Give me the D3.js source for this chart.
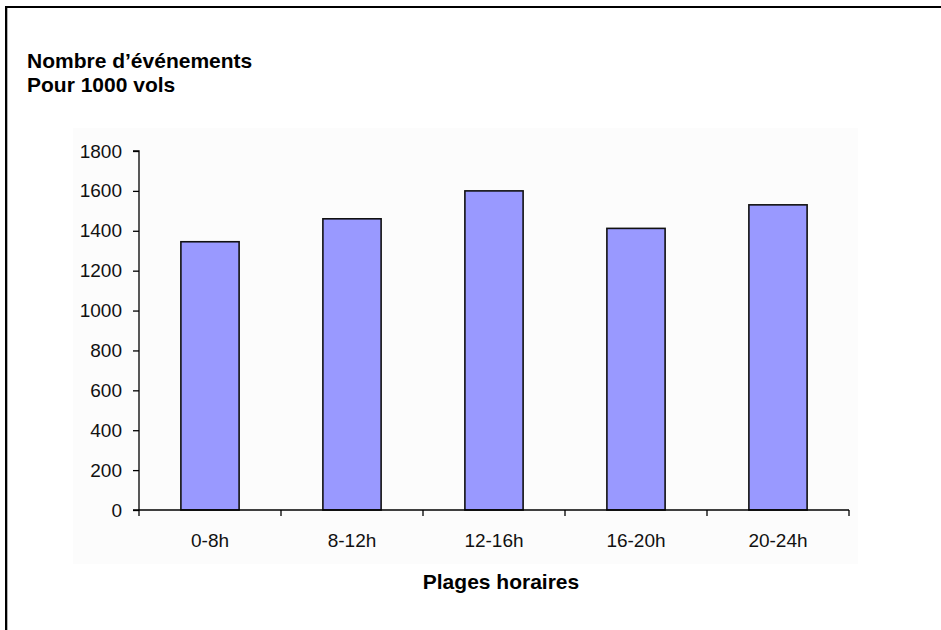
<!DOCTYPE html>
<html>
<head>
<meta charset="utf-8">
<script src="https://cdn.jsdelivr.net/npm/d3@7"></script>
<style>
  html, body { margin: 0; padding: 0; background: #fff; }
  svg { display: block; }
</style>
</head>
<body>
<svg id="chart" width="941" height="630"></svg>
<script>
// Events per 1000 flights, by time slot
const categories = ["0-8h", "8-12h", "12-16h", "16-20h", "20-24h"];
const values = [1345, 1460, 1600, 1412, 1530];
const yTicks = [0, 200, 400, 600, 800, 1000, 1200, 1400, 1600, 1800];
const titleLines = ["Nombre d\u2019événements", "Pour 1000 vols"];
const xTitle = "Plages horaires";

const svg = d3.select("#chart");
const font = "Arial, 'Liberation Sans', sans-serif";

// frame (top and left edges)
svg.append("rect").attr("x", 5).attr("y", 6).attr("width", 936).attr("height", 2).attr("fill", "#000");
svg.append("rect").attr("x", 5).attr("y", 6).attr("width", 2.3).attr("height", 624).attr("fill", "#000");

// faint plot-area backdrop
svg.append("rect").attr("x", 73).attr("y", 128).attr("width", 785).attr("height", 436).attr("fill", "#fcfcfc");

const plot = { left: 139, right: 849, top: 151, bottom: 510 };

const x = d3.scaleBand().domain(categories).range([plot.left, plot.right]).paddingInner(0.59).paddingOuter(0.295);
const xCat = d3.scaleBand().domain(categories).range([plot.left, plot.right]);
const y = d3.scaleLinear().domain([0, 1800]).range([plot.bottom, plot.top]);

// bars
svg.append("g").selectAll("rect").data(values).join("rect")
  .attr("x", (d, i) => x(categories[i]))
  .attr("y", d => y(d))
  .attr("width", x.bandwidth())
  .attr("height", d => y(0) - y(d))
  .attr("fill", "#9999ff")
  .attr("stroke", "#111")
  .attr("stroke-width", 1.6);

// y axis
const yAxis = d3.axisLeft(y).tickValues(yTicks).tickSize(6).tickPadding(11).tickFormat(d3.format("d"));
const gy = svg.append("g").attr("transform", `translate(${plot.left},0)`).call(yAxis);
gy.select(".domain").attr("stroke", "#000").attr("stroke-width", 1.3).attr("d", `M-6,${plot.top}H0V${plot.bottom}`);
gy.selectAll(".tick line").attr("stroke", "#000").attr("stroke-width", 1.3);
gy.selectAll(".tick text").attr("font-family", font).attr("font-size", 19).attr("fill", "#111");

// x axis: ticks at category boundaries
const bounds = [plot.left, ...categories.map(c => xCat(c) + xCat.bandwidth())];
const gx = svg.append("g");
gx.append("line").attr("x1", plot.left - 6).attr("x2", plot.right).attr("y1", plot.bottom).attr("y2", plot.bottom)
  .attr("stroke", "#000").attr("stroke-width", 1.3);
gx.selectAll("line.t").data(bounds).join("line").attr("class", "t")
  .attr("x1", d => d).attr("x2", d => d).attr("y1", plot.bottom).attr("y2", plot.bottom + 6)
  .attr("stroke", "#000").attr("stroke-width", 1.3);
gx.selectAll("text").data(categories).join("text")
  .attr("x", d => xCat(d) + xCat.bandwidth() / 2)
  .attr("y", 547)
  .attr("text-anchor", "middle")
  .attr("font-family", font).attr("font-size", 19).attr("fill", "#111")
  .text(d => d);

// titles
svg.append("g").selectAll("text").data(titleLines).join("text")
  .attr("x", 27).attr("y", (d, i) => 68 + i * 24)
  .attr("font-family", font).attr("font-size", 21).attr("font-weight", "bold").attr("fill", "#000")
  .text(d => d);

svg.append("text").attr("x", 501).attr("y", 589).attr("text-anchor", "middle")
  .attr("font-family", font).attr("font-size", 21).attr("font-weight", "bold").attr("fill", "#000")
  .text(xTitle);
</script>
</body>
</html>
